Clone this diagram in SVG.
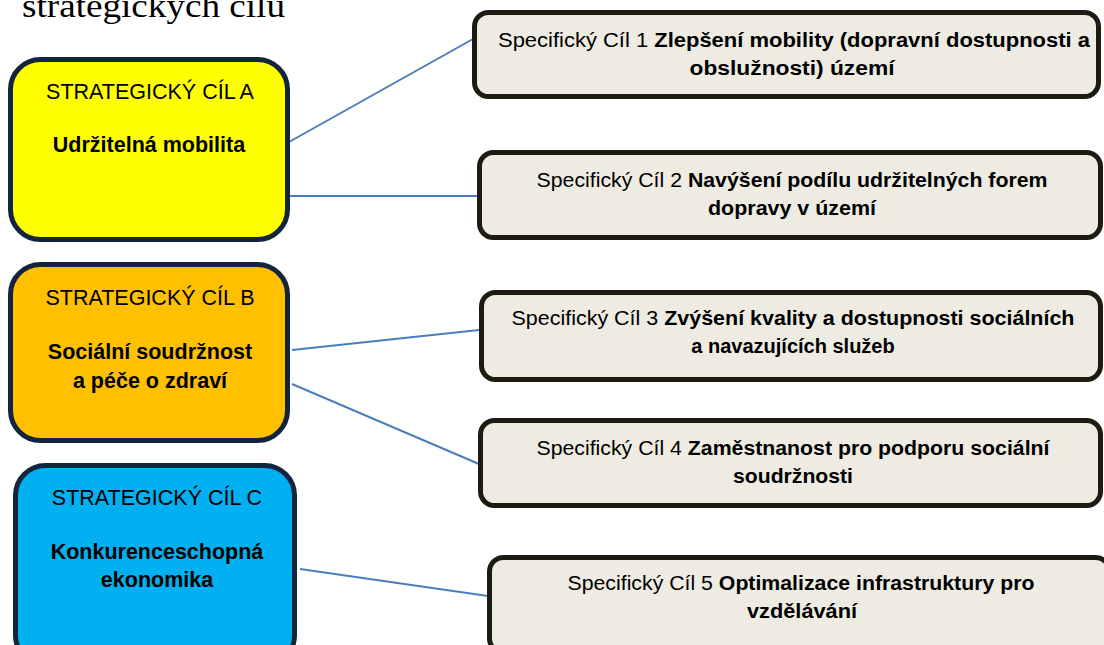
<svg xmlns="http://www.w3.org/2000/svg" width="1104" height="645" viewBox="0 0 1104 645">
<style>
.sc{stroke:#13243d;stroke-width:5}
.sp{fill:#eeece2;stroke:#1e1b12;stroke-width:5}
.t{font-family:"Liberation Sans",Arial,sans-serif;fill:#000;text-anchor:middle}
.r{font-size:20px}
.l{font-size:21.5px}
.b{font-weight:bold}
.c{stroke:#4a7ebb;stroke-width:2;fill:none}
</style>
<rect width="1104" height="645" fill="#fff"/>
<text x="22" y="17" font-family="'Liberation Serif','Times New Roman',serif" font-size="34" textLength="263" lengthAdjust="spacingAndGlyphs">strategických cílů</text>
<g id="connectors">
<line class="c" x1="289" y1="142" x2="473" y2="39"/>
<line class="c" x1="290" y1="196" x2="477" y2="196"/>
<line class="c" x1="292" y1="350" x2="479" y2="330"/>
<line class="c" x1="292" y1="384" x2="479" y2="464"/>
<line class="c" x1="300" y1="569" x2="488" y2="596"/>
</g>
<g id="cilA">
<rect class="sc" x="10.5" y="59.5" width="277" height="180" rx="30" fill="#ffff00"/>
<text class="t l" x="150" y="99">STRATEGICKÝ CÍL A</text>
<text class="t l b" x="149" y="152">Udržitelná mobilita</text>
</g>
<g id="cilB">
<rect class="sc" x="10.5" y="264.5" width="277" height="176" rx="30" fill="#ffc000"/>
<text class="t l" x="150" y="305">STRATEGICKÝ CÍL B</text>
<text class="t l b" x="150" y="359">Sociální soudržnost</text>
<text class="t l b" x="150" y="388">a péče o zdraví</text>
</g>
<g id="cilC">
<rect class="sc" x="15.5" y="465.5" width="279" height="200" rx="30" fill="#00b0f0"/>
<text class="t l" x="157" y="505">STRATEGICKÝ CÍL C</text>
<text class="t l b" x="157" y="559">Konkurenceschopná</text>
<text class="t l b" x="157" y="587">ekonomika</text>
</g>
<g id="sc1">
<rect class="sp" x="474.5" y="12.5" width="624" height="84" rx="14"/>
<text class="t r" x="794" y="47" textLength="592" lengthAdjust="spacingAndGlyphs">Specifický Cíl 1 <tspan class="b">Zlepšení mobility (dopravní dostupnosti a</tspan></text>
<text class="t r b" x="792" y="75" textLength="205" lengthAdjust="spacingAndGlyphs">obslužnosti) území</text>
</g>
<g id="sc2">
<rect class="sp" x="479.5" y="152.5" width="621" height="85" rx="14"/>
<text class="t r" x="792" y="187" textLength="511" lengthAdjust="spacingAndGlyphs">Specifický Cíl 2 <tspan class="b">Navýšení podílu udržitelných forem</tspan></text>
<text class="t r b" x="792" y="215" textLength="168" lengthAdjust="spacingAndGlyphs">dopravy v území</text>
</g>
<g id="sc3">
<rect class="sp" x="481.5" y="292.5" width="619" height="87" rx="14"/>
<text class="t r" x="793" y="325" textLength="563" lengthAdjust="spacingAndGlyphs">Specifický Cíl 3 <tspan class="b">Zvýšení kvality a dostupnosti sociálních</tspan></text>
<text class="t r b" x="793" y="353">a navazujících služeb</text>
</g>
<g id="sc4">
<rect class="sp" x="480.5" y="420.5" width="620" height="85" rx="14"/>
<text class="t r" x="793" y="455" textLength="513" lengthAdjust="spacingAndGlyphs">Specifický Cíl 4 <tspan class="b">Zaměstnanost pro podporu sociální</tspan></text>
<text class="t r b" x="793" y="483" textLength="120" lengthAdjust="spacingAndGlyphs">soudržnosti</text>
</g>
<g id="sc5">
<rect class="sp" x="489.5" y="557.5" width="620" height="95" rx="14"/>
<text class="t r" x="801" y="590" textLength="467" lengthAdjust="spacingAndGlyphs">Specifický Cíl 5 <tspan class="b">Optimalizace infrastruktury pro</tspan></text>
<text class="t r b" x="802" y="618" textLength="110" lengthAdjust="spacingAndGlyphs">vzdělávání</text>
</g>
</svg>
